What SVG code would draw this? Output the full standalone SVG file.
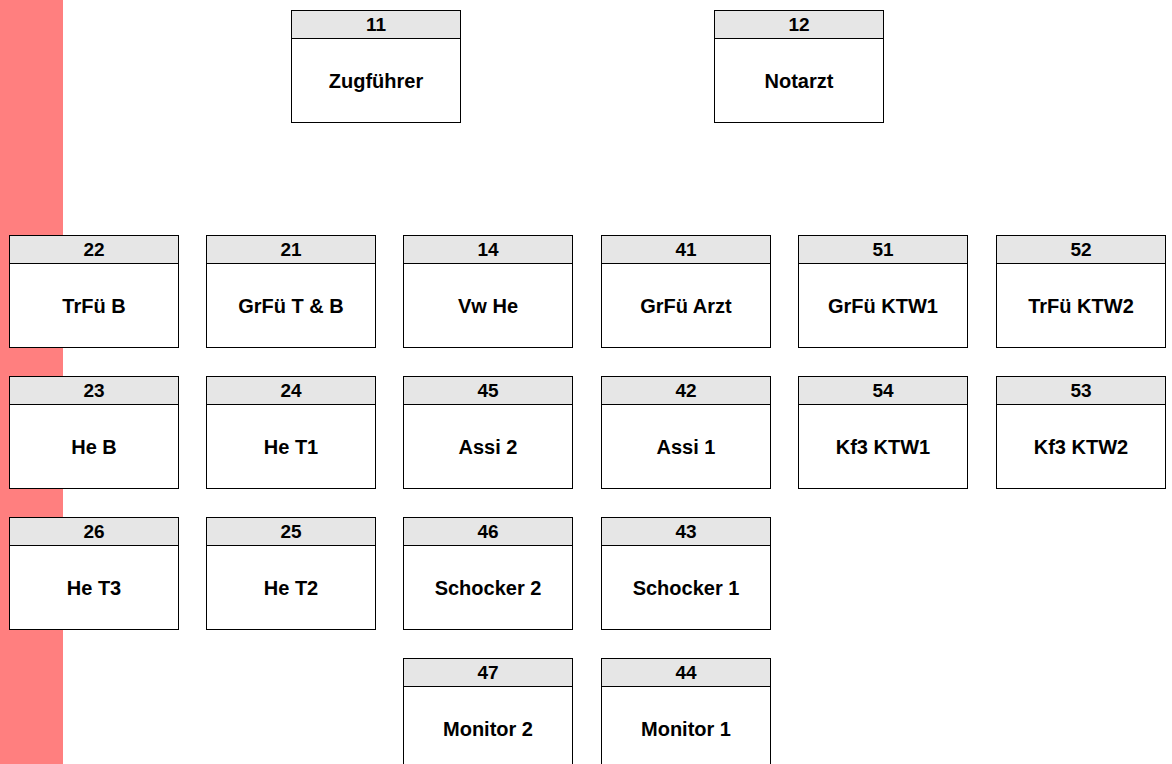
<svg xmlns="http://www.w3.org/2000/svg" width="1172" height="764" viewBox="0 0 1172 764">
<style>
.b{fill:#fff;stroke:#000;stroke-width:1}
.h{fill:#e6e6e6;stroke:#000;stroke-width:1}
text{font-family:"Liberation Sans",Arial,sans-serif;font-weight:bold;text-anchor:middle;fill:#000}
.t{font-size:19px}
.l{font-size:20px}
</style>
<rect x="0" y="0" width="63" height="764" fill="#ff7f7f"/>
<g id="connectors"></g>
<g id="n11" transform="translate(291.5,10.5)"><rect class="b" width="169" height="112"/><rect class="h" width="169" height="28"/><text class="t" x="84.5" y="20.5">11</text><text class="l" x="84.5" y="77">Zugführer</text></g>
<g id="n12" transform="translate(714.5,10.5)"><rect class="b" width="169" height="112"/><rect class="h" width="169" height="28"/><text class="t" x="84.5" y="20.5">12</text><text class="l" x="84.5" y="77">Notarzt</text></g>

<g id="n22" transform="translate(9.5,235.5)"><rect class="b" width="169" height="112"/><rect class="h" width="169" height="28"/><text class="t" x="84.5" y="20.5">22</text><text class="l" x="84.5" y="77">TrFü B</text></g>
<g id="n21" transform="translate(206.5,235.5)"><rect class="b" width="169" height="112"/><rect class="h" width="169" height="28"/><text class="t" x="84.5" y="20.5">21</text><text class="l" x="84.5" y="77">GrFü T &amp; B</text></g>
<g id="n14" transform="translate(403.5,235.5)"><rect class="b" width="169" height="112"/><rect class="h" width="169" height="28"/><text class="t" x="84.5" y="20.5">14</text><text class="l" x="84.5" y="77">Vw He</text></g>
<g id="n41" transform="translate(601.5,235.5)"><rect class="b" width="169" height="112"/><rect class="h" width="169" height="28"/><text class="t" x="84.5" y="20.5">41</text><text class="l" x="84.5" y="77">GrFü Arzt</text></g>
<g id="n51" transform="translate(798.5,235.5)"><rect class="b" width="169" height="112"/><rect class="h" width="169" height="28"/><text class="t" x="84.5" y="20.5">51</text><text class="l" x="84.5" y="77">GrFü KTW1</text></g>
<g id="n52" transform="translate(996.5,235.5)"><rect class="b" width="169" height="112"/><rect class="h" width="169" height="28"/><text class="t" x="84.5" y="20.5">52</text><text class="l" x="84.5" y="77">TrFü KTW2</text></g>

<g id="n23" transform="translate(9.5,376.5)"><rect class="b" width="169" height="112"/><rect class="h" width="169" height="28"/><text class="t" x="84.5" y="20.5">23</text><text class="l" x="84.5" y="77">He B</text></g>
<g id="n24" transform="translate(206.5,376.5)"><rect class="b" width="169" height="112"/><rect class="h" width="169" height="28"/><text class="t" x="84.5" y="20.5">24</text><text class="l" x="84.5" y="77">He T1</text></g>
<g id="n45" transform="translate(403.5,376.5)"><rect class="b" width="169" height="112"/><rect class="h" width="169" height="28"/><text class="t" x="84.5" y="20.5">45</text><text class="l" x="84.5" y="77">Assi 2</text></g>
<g id="n42" transform="translate(601.5,376.5)"><rect class="b" width="169" height="112"/><rect class="h" width="169" height="28"/><text class="t" x="84.5" y="20.5">42</text><text class="l" x="84.5" y="77">Assi 1</text></g>
<g id="n54" transform="translate(798.5,376.5)"><rect class="b" width="169" height="112"/><rect class="h" width="169" height="28"/><text class="t" x="84.5" y="20.5">54</text><text class="l" x="84.5" y="77">Kf3 KTW1</text></g>
<g id="n53" transform="translate(996.5,376.5)"><rect class="b" width="169" height="112"/><rect class="h" width="169" height="28"/><text class="t" x="84.5" y="20.5">53</text><text class="l" x="84.5" y="77">Kf3 KTW2</text></g>

<g id="n26" transform="translate(9.5,517.5)"><rect class="b" width="169" height="112"/><rect class="h" width="169" height="28"/><text class="t" x="84.5" y="20.5">26</text><text class="l" x="84.5" y="77">He T3</text></g>
<g id="n25" transform="translate(206.5,517.5)"><rect class="b" width="169" height="112"/><rect class="h" width="169" height="28"/><text class="t" x="84.5" y="20.5">25</text><text class="l" x="84.5" y="77">He T2</text></g>
<g id="n46" transform="translate(403.5,517.5)"><rect class="b" width="169" height="112"/><rect class="h" width="169" height="28"/><text class="t" x="84.5" y="20.5">46</text><text class="l" x="84.5" y="77">Schocker 2</text></g>
<g id="n43" transform="translate(601.5,517.5)"><rect class="b" width="169" height="112"/><rect class="h" width="169" height="28"/><text class="t" x="84.5" y="20.5">43</text><text class="l" x="84.5" y="77">Schocker 1</text></g>

<g id="n47" transform="translate(403.5,658.5)"><rect class="b" width="169" height="112"/><rect class="h" width="169" height="28"/><text class="t" x="84.5" y="20.5">47</text><text class="l" x="84.5" y="77">Monitor 2</text></g>
<g id="n44" transform="translate(601.5,658.5)"><rect class="b" width="169" height="112"/><rect class="h" width="169" height="28"/><text class="t" x="84.5" y="20.5">44</text><text class="l" x="84.5" y="77">Monitor 1</text></g>
</svg>
